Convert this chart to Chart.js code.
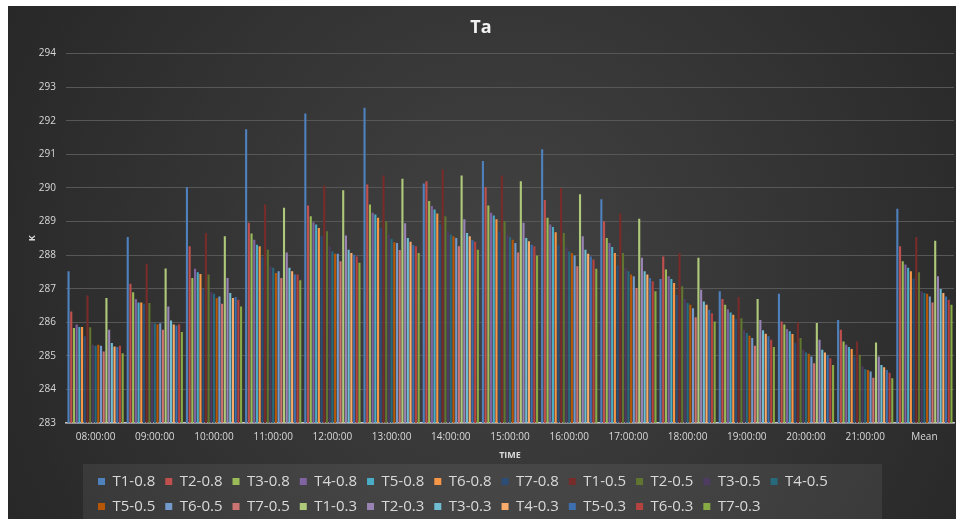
<!DOCTYPE html>
<html>
<head>
<meta charset="utf-8">
<script src="https://cdn.jsdelivr.net/npm/chart.js@4.4.1/dist/chart.umd.min.js"></script>
<style>
  html, body { margin: 0; padding: 0; background: #fff; }
  #wrap { position: absolute; left: 8px; top: 6px; width: 948px; height: 513px; }
</style>
</head>
<body>
<div id="wrap"><canvas id="chart_div" width="948" height="513"></canvas></div>
<script>
const labels = ['08:00:00', '09:00:00', '10:00:00', '11:00:00', '12:00:00', '13:00:00', '14:00:00',
    '15:00:00', '16:00:00', '17:00:00', '18:00:00', '19:00:00', '20:00:00', '21:00:00', 'Mean'];

const T1_08 = [287.52, 288.54, 290.02, 291.75, 292.22, 292.39, 290.13, 290.80, 291.15, 289.66, 287.29, 286.92, 286.85, 286.07, 289.38];
const T2_08 = [286.32, 287.15, 288.26, 288.96, 289.48, 290.10, 290.20, 290.03, 289.64, 289.01, 287.96, 286.69, 286.02, 285.78, 288.26];
const T3_08 = [285.83, 286.89, 287.32, 288.64, 289.16, 289.51, 289.61, 289.48, 289.11, 288.51, 287.57, 286.52, 285.93, 285.43, 287.82];
const T4_08 = [285.93, 286.69, 287.59, 288.46, 288.98, 289.26, 289.46, 289.26, 288.91, 288.36, 287.37, 286.39, 285.80, 285.33, 287.72];
const T5_08 = [285.86, 286.59, 287.49, 288.31, 288.91, 289.21, 289.36, 289.18, 288.84, 288.24, 287.29, 286.29, 285.73, 285.26, 287.62];
const T6_08 = [285.86, 286.59, 287.44, 288.26, 288.81, 289.11, 289.24, 289.07, 288.68, 288.06, 287.17, 286.22, 285.65, 285.20, 287.52];
const T7_08 = [285.58, 286.55, 287.00, 287.96, 288.56, 288.81, 288.91, 288.71, 288.31, 287.69, 286.82, 286.10, 285.38, 284.98, 287.30];
const T1_05 = [286.80, 287.74, 288.66, 289.51, 290.07, 290.37, 290.55, 290.37, 290.00, 289.24, 288.06, 286.75, 285.99, 285.43, 288.54];
const T2_05 = [285.85, 286.57, 287.42, 288.16, 288.71, 289.01, 289.16, 289.01, 288.66, 288.06, 287.07, 286.12, 285.53, 285.03, 287.49];
const T3_05 = [285.33, 285.97, 286.90, 287.67, 288.26, 288.61, 288.71, 288.61, 288.24, 287.62, 286.69, 285.78, 285.18, 284.68, 286.92];
const T4_05 = [285.30, 285.97, 286.85, 287.62, 288.11, 288.48, 288.61, 288.54, 288.11, 287.52, 286.57, 285.68, 285.10, 284.60, 286.87];
const T5_05 = [285.33, 285.94, 286.72, 287.47, 288.04, 288.38, 288.56, 288.46, 288.06, 287.42, 286.52, 285.60, 285.06, 284.58, 286.85];
const T6_05 = [285.30, 285.97, 286.77, 287.52, 288.04, 288.36, 288.51, 288.36, 287.99, 287.37, 286.42, 285.53, 284.98, 284.53, 286.77];
const T7_05 = [285.13, 285.78, 286.55, 287.32, 287.82, 288.15, 288.26, 288.08, 287.67, 287.02, 286.15, 285.30, 284.78, 284.35, 286.59];
const T1_03 = [286.72, 287.60, 288.56, 289.41, 289.93, 290.27, 290.37, 290.20, 289.81, 289.08, 287.92, 286.69, 285.98, 285.40, 288.43];
const T2_03 = [285.78, 286.47, 287.32, 288.08, 288.58, 288.95, 289.07, 288.96, 288.56, 287.92, 286.97, 286.07, 285.48, 284.98, 287.37];
const T3_03 = [285.38, 286.05, 286.87, 287.62, 288.16, 288.51, 288.66, 288.51, 288.16, 287.52, 286.62, 285.76, 285.18, 284.73, 286.99];
const T4_03 = [285.28, 285.93, 286.72, 287.52, 288.06, 288.40, 288.56, 288.41, 288.04, 287.42, 286.52, 285.66, 285.10, 284.66, 286.87];
const T5_03 = [285.26, 285.90, 286.75, 287.42, 288.01, 288.30, 288.44, 288.31, 287.96, 287.32, 286.37, 285.58, 285.03, 284.58, 286.77];
const T6_03 = [285.30, 285.94, 286.67, 287.42, 287.96, 288.26, 288.40, 288.26, 287.87, 287.22, 286.27, 285.48, 284.93, 284.50, 286.67];
const T7_03 = [285.08, 285.71, 286.47, 287.25, 287.77, 288.06, 288.16, 287.99, 287.59, 286.92, 286.02, 285.26, 284.73, 284.33, 286.52];

const names = ['T1-0.8', 'T2-0.8', 'T3-0.8', 'T4-0.8', 'T5-0.8', 'T6-0.8', 'T7-0.8',
    'T1-0.5', 'T2-0.5', 'T3-0.5', 'T4-0.5', 'T5-0.5', 'T6-0.5', 'T7-0.5',
    'T1-0.3', 'T2-0.3', 'T3-0.3', 'T4-0.3', 'T5-0.3', 'T6-0.3', 'T7-0.3'];
const series = [T1_08, T2_08, T3_08, T4_08, T5_08, T6_08, T7_08,
    T1_05, T2_05, T3_05, T4_05, T5_05, T6_05, T7_05,
    T1_03, T2_03, T3_03, T4_03, T5_03, T6_03, T7_03];

// excel office palette, 21 series
var COLORS = [
    '#4F81BD', '#C0504D', '#9BBB59', '#8064A2', '#4BACC6', '#F79646',
    '#2C4D75', '#772C2A', '#5F7530', '#4D3B62', '#276A7C', '#B65708',
    '#729ACA', '#CD7371', '#AFC97A', '#9983B5', '#6FBDD1', '#F9AB6B',
    '#3D6FAE', '#B5423F', '#88AA45'
];

const LEGEND_W = 780;

const datasets = series.map((d, i) => ({
    label: names[i],
    data: d,
    backgroundColor: COLORS[i],
    borderWidth: 0,
    barPercentage: 0.78,
    categoryPercentage: 0.96
}));

// background + legend box, and a fixed-width legend like excel's
const excelLook = {
    id: 'excelLook',
    beforeLayout(chart) {
        const lg = chart.legend;
        if (lg && !lg._fixed) {
            const upd = lg.update;
            lg.update = function (w, h, m) { upd.call(this, LEGEND_W, h, m); };
            lg._fixed = true;
        }
    },
    afterLayout(chart) {
        const lg = chart.legend;
        lg.left = 80;
        lg.right = 80 + LEGEND_W;
        lg.width = LEGEND_W;
        lg.top += 5;
        lg.bottom += 5;
    },
    beforeDraw(chart) {
        const c = chart.ctx;
        const w = chart.width, h = chart.height;
        c.save();
        const g = c.createRadialGradient(w * 0.52, h * 0.5, 10, w * 0.52, h * 0.5, w * 0.62);
        g.addColorStop(0, '#424242');
        g.addColorStop(1, '#262626');
        c.fillStyle = g;
        c.fillRect(0, 0, w, h);
        c.fillStyle = 'rgba(255,255,255,0.07)';
        c.fillRect(75, chart.legend.top, 799, h - chart.legend.top);
        c.restore();
    }
};

const ctx = document.getElementById('chart_div');
Chart.defaults.font.family = "'Open Sans', sans-serif";

new Chart(ctx, {
    type: 'bar',
    data: { labels: labels, datasets: datasets },
    options: {
        responsive: false,
        animation: false,
        devicePixelRatio: 1,
        layout: { padding: { right: 2 } },
        plugins: {
            title: {
                display: true,
                text: 'Ta',
                color: '#f2f2f2',
                font: { size: 18, weight: 'bold' },
                padding: { top: 11, bottom: 15 }
            },
            legend: {
                position: 'bottom',
                align: 'start',
                labels: {
                    color: '#d9d9d9',
                    font: { size: 15 },
                    boxWidth: 7,
                    boxHeight: 7,
                    padding: 10
                }
            },
            tooltip: { enabled: false }
        },
        scales: {
            x: {
                grid: { display: false, drawTicks: false },
                border: { display: true, color: '#c8c8c8', width: 1.5 },
                ticks: { color: '#d9d9d9', font: { size: 10 }, padding: 8, maxRotation: 0, autoSkip: false },
                title: { display: true, text: 'TIME', color: '#d9d9d9', font: { size: 9, weight: 'bold' }, padding: { top: 0, bottom: -2 } },
                afterFit(s) { s.height = 36; }
            },
            y: {
                min: 283,
                max: 294,
                grid: { color: '#575757', drawTicks: false },
                border: { display: false },
                ticks: { stepSize: 1, color: '#d9d9d9', font: { size: 10 }, padding: 10 },
                title: { display: true, text: 'K', color: '#d9d9d9', font: { size: 9, weight: 'bold' }, padding: { top: 19, bottom: 0 } },
                afterFit(s) { s.width = 58; }
            }
        }
    },
    plugins: [excelLook]
});
</script>
</body>
</html>
